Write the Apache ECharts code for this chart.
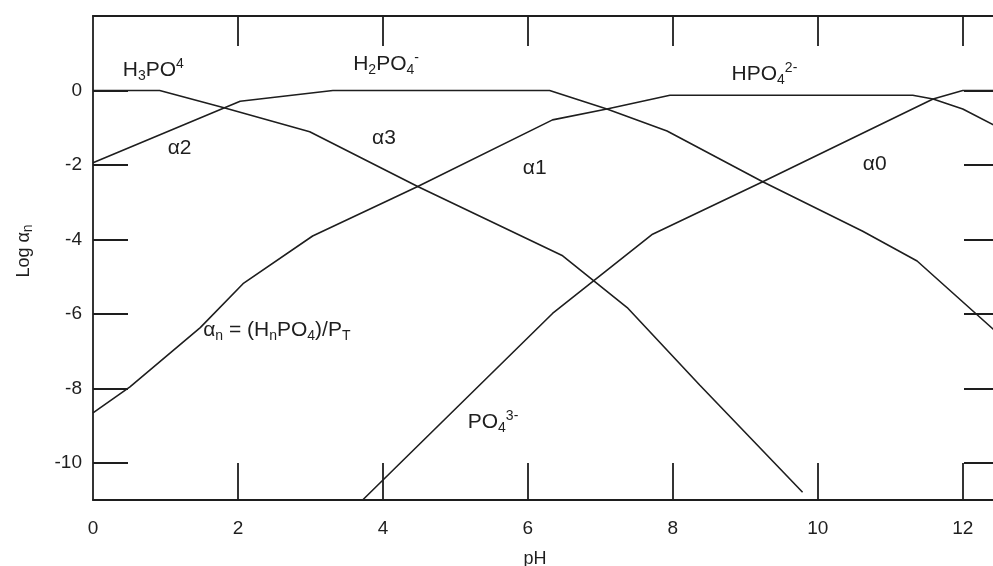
<!DOCTYPE html>
<html>
<head>
<meta charset="utf-8">
<script src="https://cdn.jsdelivr.net/npm/echarts@6/dist/echarts.min.js"></script>
<style>
  html, body { margin: 0; padding: 0; background: #fff; }
  #main { width: 993px; height: 566px; }
</style>
</head>
<body>
<div id="main"></div>
<script>
// log alpha vs pH
const a3PH = [0, 0.92, 1.82, 2.99, 4.48, 6.48, 7.37, 8.37, 9.79];
const a3Log = [0, 0, -0.47, -1.11, -2.58, -4.44, -5.83, -7.91, -10.79];

const a2PH = [0, 2.03, 3.31, 6.30, 7.09, 7.92, 9.24, 10.62, 11.37, 12.5];
const a2Log = [-1.94, -0.29, 0, 0, -0.5, -1.09, -2.45, -3.78, -4.58, -6.55];

const a1PH = [0, 0.51, 1.48, 2.07, 3.03, 4.1, 4.48, 6.34, 7.09, 7.96, 11.31, 11.59, 12.0, 12.5];
const a1Log = [-8.66, -7.96, -6.37, -5.19, -3.91, -2.93, -2.58, -0.79, -0.5, -0.13, -0.13, -0.23, -0.5, -1.0];

const a0PH = [3.72, 6.34, 7.72, 9.24, 11.59, 12.0, 12.5];
const a0Log = [-11, -5.99, -3.86, -2.45, -0.23, 0, 0];

const xLabels = [0, 2, 4, 6, 8, 10, 12];
const xTickVals = [2, 4, 6, 8, 10, 12];
const yLabels = [0, -2, -4, -6, -8, -10];

// annotation texts and where they sit (data coords, left edge / middle)
const noteText = [
  'H{sb|3}PO{sp|4}',
  'H{sb|2}PO{sb|4}{sp|-}',
  'HPO{sb|4}{sp|2-}',
  'α2', 'α3', 'α1', 'α0',
  'α{sb|n} = (H{sb|n}PO{sb|4})/P{sb|T}',
  'PO{sb|4}{sp|3-}'
];
const notePH = [0.41, 3.59, 8.81, 1.03, 3.85, 5.93, 10.62, 1.52, 5.17];
const noteLog = [0.54, 0.7, 0.43, -1.54, -1.27, -2.1, -1.97, -6.44, -8.9];

const ink = '#1e1e1e';
const font = '"Liberation Sans", Arial, sans-serif';

const rich = {
  sb: { fontSize: 14, lineHeight: 14, verticalAlign: 'bottom', fontFamily: font, color: ink },
  sp: { fontSize: 14, lineHeight: 14, verticalAlign: 'top', fontFamily: font, color: ink }
};

const pairs = (xs, ys) => xs.map((x, i) => [x, ys[i]]);

const lineSeries = (name, xs, ys) => ({
  name,
  type: 'line',
  data: pairs(xs, ys),
  symbol: 'none',
  silent: true,
  lineStyle: { color: ink, width: 1.6 },
  z: 3
});

const frame = { show: true, onZero: false, lineStyle: { color: ink, width: 1.8 } };
const tickStyle = { color: ink, width: 1.8 };

const myChart = echarts.init(document.getElementById('main'));

const option = {
  animation: false,
  backgroundColor: '#fff',
  grid: { left: 93, top: 16, width: 906, height: 484, outerBoundsMode: 'none' },
  xAxis: [
    {
      type: 'value', min: 0, max: 12.5, position: 'bottom',
      axisLine: frame,
      axisTick: { inside: true, length: 37, customValues: xTickVals, lineStyle: tickStyle },
      axisLabel: { customValues: xLabels, margin: 19, fontSize: 19, color: ink, fontFamily: font },
      splitLine: { show: false },
      name: 'pH', nameLocation: 'middle', nameGap: 50,
      nameTextStyle: { fontSize: 18, color: ink, fontFamily: font, padding: [0, 22, 0, 0] }
    },
    {
      type: 'value', min: 0, max: 12.5, position: 'top',
      axisLine: frame,
      axisTick: { inside: true, length: 30, customValues: xTickVals, lineStyle: tickStyle },
      axisLabel: { show: false },
      splitLine: { show: false }
    }
  ],
  yAxis: [
    {
      type: 'value', min: -11, max: 2, position: 'left',
      axisLine: frame,
      axisTick: { inside: true, length: 35, customValues: yLabels, lineStyle: tickStyle },
      axisLabel: { customValues: yLabels, margin: 11, fontSize: 19, color: ink, fontFamily: font },
      splitLine: { show: false },
      name: 'Log α{sb|n}', nameLocation: 'middle', nameGap: 58, nameRotate: 90,
      nameTextStyle: { fontSize: 18, lineHeight: 22, color: ink, fontFamily: font, rich, padding: [0, 0, 0, 14] }
    },
    {
      type: 'value', min: -11, max: 2, position: 'right',
      axisLine: frame,
      axisTick: { inside: true, length: 35, customValues: yLabels, lineStyle: tickStyle },
      axisLabel: { show: false },
      splitLine: { show: false }
    }
  ],
  series: [
    lineSeries('α3', a3PH, a3Log),
    lineSeries('α2', a2PH, a2Log),
    lineSeries('α1', a1PH, a1Log),
    lineSeries('α0', a0PH, a0Log)
  ]
};

myChart.setOption(option);

// put the annotations on afterwards, positioned through the axes
const notes = noteText.map((t, i) => {
  const p = myChart.convertToPixel({ gridIndex: 0 }, [notePH[i], noteLog[i]]);
  return {
    type: 'text',
    x: p[0],
    y: p[1],
    silent: true,
    z: 10,
    style: {
      text: t,
      rich,
      fill: ink,
      fontSize: 21,
      lineHeight: 26,
      fontFamily: font,
      align: 'left',
      verticalAlign: 'middle'
    }
  };
});
myChart.setOption({ graphic: notes });
</script>
</body>
</html>
